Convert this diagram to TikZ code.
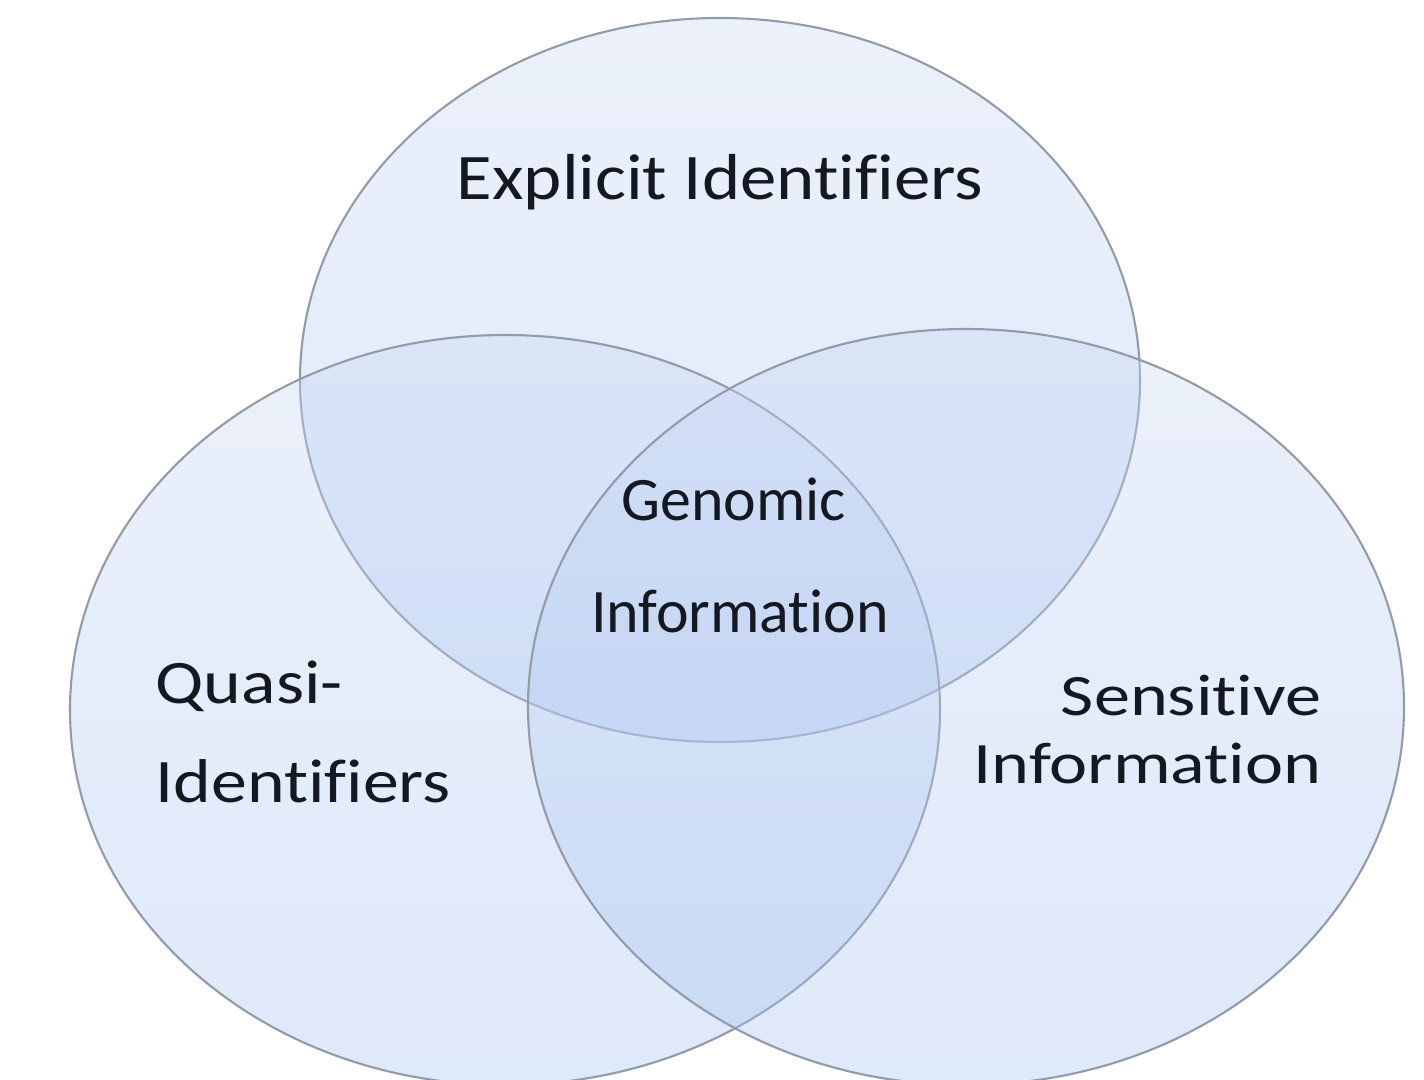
\documentclass[tikz,border=0pt]{standalone}
\usepackage{graphicx}
\usepackage{fontspec}
\setmainfont[Ligatures=CommonOff]{Carlito}
\usetikzlibrary{positioning,shapes.geometric}
\definecolor{ink}{HTML}{141821}
\definecolor{rim}{HTML}{939BAA}
\definecolor{venntop}{HTML}{C8D7F3}
\definecolor{vennbot}{HTML}{A2C0F0}
\newcommand{\wide}[2]{\scalebox{#1}[1]{#2}}
\tikzset{
  venn/.style={ellipse,draw=rim,line width=0.6pt,inner sep=0pt,
               top color=venntop,bottom color=vennbot,fill opacity=0.35,draw opacity=1},
  lbl/.style={font=\fontsize{#1}{20}\selectfont,text=ink,inner sep=0pt},
  lbl/.default=17.6,
}
\begin{document}
\begin{tikzpicture}
  \useasboundingbox (0,0) rectangle (14.24,10.79);
  \clip (0,0) rectangle (14.24,10.79);
  \fill[white] (0,0) rectangle (14.24,10.79);
  % three sets
  \foreach \name/\x/\y/\w/\h in {
    expl/7.20/6.99/8.40/7.24,
    quasi/5.05/3.69/8.70/7.50,
    sens/9.66/3.72/8.76/7.56%
  }{
    \node[venn,minimum width=\w cm,minimum height=\h cm] (\name) at (\x,\y) {};
  }
  % labels
  \node[lbl=18.5,anchor=base] (explLbl) at (7.20,8.79) {\wide{1.12}{Explicit Identifiers}};
  \node[lbl,anchor=base] (genA) at (7.335,5.59) {Genomic};
  \node[lbl,anchor=base] (genB) at (7.40,4.47) {Information};
  \node[lbl,anchor=base west] (quasiA) at (1.55,3.76) {\wide{1.16}{Quasi-}};
  \node[lbl,anchor=base west] (quasiB) at (1.55,2.77) {\wide{1.16}{Identifiers}};
  \node[lbl=16.7,anchor=base east] (sensA) at (13.22,3.64) {\wide{1.23}{Sensitive}};
  \node[lbl=16.7,anchor=base east] (sensB) at (13.22,2.96) {\wide{1.23}{Information}};
\end{tikzpicture}
\end{document}
